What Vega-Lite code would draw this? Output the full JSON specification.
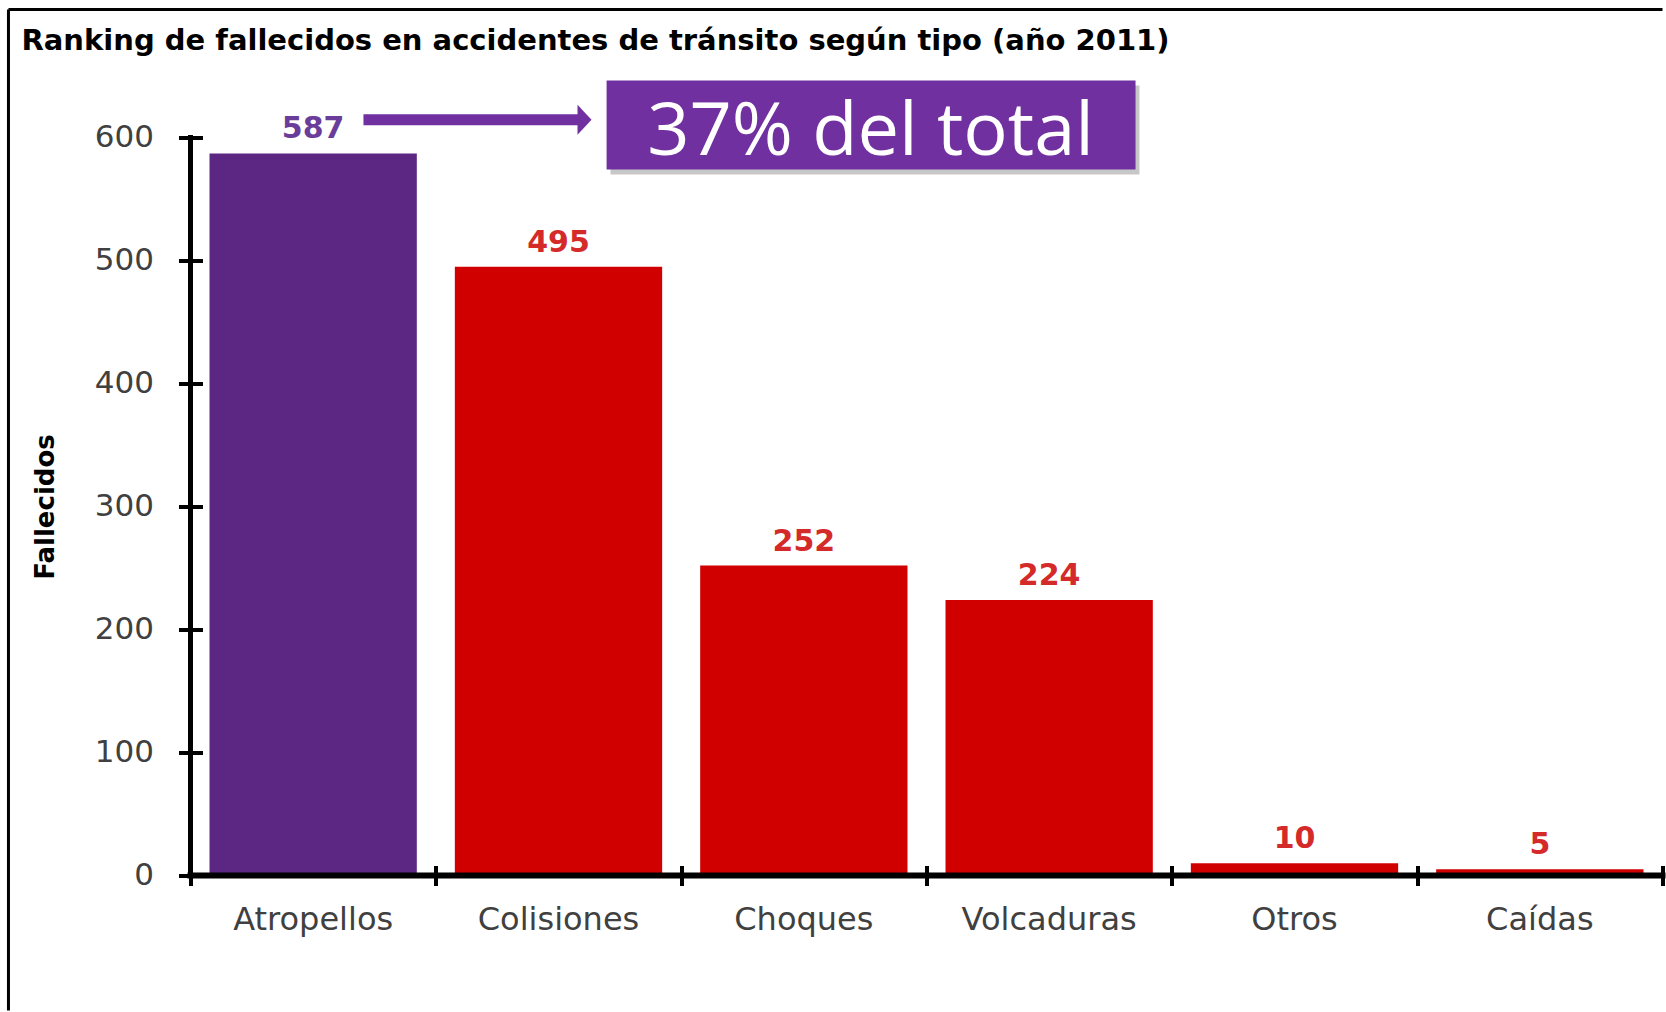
{
  "$schema": "https://vega.github.io/schema/vega-lite/v6.json",
  "width": 1472,
  "height": 738,
  "padding": {"left": 6.5, "top": 7.5, "right": 0, "bottom": 0},
  "background": "white",
  "config": {"view": {"stroke": null}},
  "data": {
    "values": [
      {"tipo": "Atropellos", "fallecidos": 587},
      {"tipo": "Colisiones", "fallecidos": 495},
      {"tipo": "Choques", "fallecidos": 252},
      {"tipo": "Volcaduras", "fallecidos": 224},
      {"tipo": "Otros", "fallecidos": 10},
      {"tipo": "Caídas", "fallecidos": 5}
    ]
  },
  "layer": [
    {
      "layer": [
        {
          "mark": {"type": "bar"},
          "encoding": {
            "x": {
              "field": "tipo",
              "type": "nominal",
              "sort": null,
              "scale": {"paddingInner": 0.155, "paddingOuter": 0.0775},
              "axis": {
                "orient": "bottom",
                "title": null,
                "domain": false,
                "ticks": false,
                "labelAngle": 0,
                "labelFont": "DejaVu Sans",
                "labelFontSize": 32,
                "labelColor": "#404040",
                "labelPadding": 29
              }
            },
            "y": {
              "field": "fallecidos",
              "type": "quantitative",
              "scale": {"domain": [0, 600], "nice": false},
              "axis": {
                "title": "Fallecidos",
                "titleFont": "DejaVu Sans",
                "titleFontWeight": "bold",
                "titleFontSize": 26,
                "titleColor": "#000000",
                "titlePadding": 36,
                "values": [0, 100, 200, 300, 400, 500, 600],
                "grid": false,
                "domain": false,
                "offset": -12,
                "tickSize": 24,
                "tickWidth": 4,
                "tickColor": "#000000",
                "labelFont": "DejaVu Sans",
                "labelFontSize": 31,
                "labelColor": "#404040",
                "labelPadding": 25
              }
            },
            "color": {
              "condition": {"test": "datum.tipo === 'Atropellos'", "value": "#5C2683"},
              "value": "#D00000"
            }
          }
        },
        {
          "mark": {"type": "text", "baseline": "alphabetic", "dy": -15, "font": "DejaVu Sans", "fontWeight": "bold", "fontSize": 30},
          "encoding": {
            "x": {"field": "tipo", "type": "nominal", "sort": null},
            "y": {"field": "fallecidos", "type": "quantitative", "scale": {"domain": [0, 600], "nice": false}},
            "text": {"field": "fallecidos", "type": "quantitative"},
            "color": {
              "condition": {"test": "datum.tipo === 'Atropellos'", "value": "#6A3D9A"},
              "value": "#D42A2A"
            }
          }
        }
      ]
    },
    {
      "data": {"values": [{}]},
      "layer": [
        {
          "mark": {"type": "rule", "color": "#000000", "strokeWidth": 3},
          "encoding": {
            "x": {"datum": -0.742, "type": "quantitative", "scale": {"domain": [0, 6], "nice": false, "zero": false}},
            "x2": {"datum": 6.0},
            "y": {"datum": 704.1, "type": "quantitative", "scale": {"domain": [0, 600], "nice": false}}
          }
        },
        {
          "mark": {"type": "rule", "color": "#000000", "strokeWidth": 3},
          "encoding": {
            "x": {"datum": -0.742, "type": "quantitative", "scale": {"domain": [0, 6], "nice": false, "zero": false}},
            "y": {"datum": 704.1, "type": "quantitative", "scale": {"domain": [0, 600], "nice": false}},
            "y2": {"datum": -109.8}
          }
        },
        {
          "mark": {"type": "text", "text": "Ranking de fallecidos en accidentes de tránsito según tipo (año 2011)", "font": "DejaVu Sans", "fontWeight": "bold", "fontSize": 29, "color": "#000000", "align": "left", "baseline": "alphabetic"},
          "encoding": {
            "x": {"datum": -0.689, "type": "quantitative", "scale": {"domain": [0, 6], "nice": false, "zero": false}},
            "y": {"datum": 671.5, "type": "quantitative", "scale": {"domain": [0, 600], "nice": false}}
          }
        },
        {
          "mark": {"type": "rule", "color": "#000000", "strokeWidth": 5, "strokeCap": "square"},
          "encoding": {
            "x": {"datum": 0, "type": "quantitative", "scale": {"domain": [0, 6], "nice": false, "zero": false}},
            "y": {"datum": 600, "type": "quantitative", "scale": {"domain": [0, 600], "nice": false}},
            "y2": {"datum": 0}
          }
        },
        {
          "mark": {"type": "rule", "color": "#000000", "strokeWidth": 6, "strokeCap": "square"},
          "encoding": {
            "x": {
              "datum": 0,
              "type": "quantitative",
              "scale": {"domain": [0, 6], "nice": false, "zero": false},
              "axis": {
                "orient": "bottom",
                "title": null,
                "values": [0, 1, 2, 3, 4, 5, 6],
                "labels": false,
                "domain": false,
                "grid": false,
                "offset": -10,
                "tickSize": 20,
                "tickWidth": 4,
                "tickColor": "#000000"
              }
            },
            "x2": {"datum": 6.0},
            "y": {"datum": 0, "type": "quantitative", "scale": {"domain": [0, 600], "nice": false}}
          }
        },
        {
          "mark": {"type": "rect", "color": "#000000", "opacity": 0.22},
          "encoding": {
            "x": {"datum": 1.712, "type": "quantitative", "scale": {"domain": [0, 6], "nice": false, "zero": false}},
            "x2": {"datum": 3.868},
            "y": {"datum": 569.9, "type": "quantitative", "scale": {"domain": [0, 600], "nice": false}},
            "y2": {"datum": 642.2}
          }
        },
        {
          "mark": {"type": "rect", "color": "#7030A0"},
          "encoding": {
            "x": {"datum": 1.696, "type": "quantitative", "scale": {"domain": [0, 6], "nice": false, "zero": false}},
            "x2": {"datum": 3.852},
            "y": {"datum": 574.0, "type": "quantitative", "scale": {"domain": [0, 600], "nice": false}},
            "y2": {"datum": 646.3}
          }
        },
        {
          "mark": {"type": "text", "text": "37% del total", "font": "Open Sans", "fontSize": 74, "color": "#FFFFFF", "align": "center", "baseline": "alphabetic"},
          "encoding": {
            "x": {"datum": 2.772, "type": "quantitative", "scale": {"domain": [0, 6], "nice": false, "zero": false}},
            "y": {"datum": 585.4, "type": "quantitative", "scale": {"domain": [0, 600], "nice": false}}
          }
        },
        {
          "mark": {"type": "rule", "color": "#7030A0", "strokeWidth": 11},
          "encoding": {
            "x": {"datum": 0.705, "type": "quantitative", "scale": {"domain": [0, 6], "nice": false, "zero": false}},
            "x2": {"datum": 1.585},
            "y": {"datum": 614.5, "type": "quantitative", "scale": {"domain": [0, 600], "nice": false}}
          }
        },
        {
          "mark": {"type": "point", "shape": "M-0.467,-1L0.467,0L-0.467,1Z", "size": 900, "filled": true, "color": "#7030A0", "opacity": 1},
          "encoding": {
            "x": {"datum": 1.606, "type": "quantitative", "scale": {"domain": [0, 6], "nice": false, "zero": false}},
            "y": {"datum": 614.5, "type": "quantitative", "scale": {"domain": [0, 600], "nice": false}}
          }
        }
      ]
    }
  ],
  "resolve": {"scale": {"x": "independent"}}
}
